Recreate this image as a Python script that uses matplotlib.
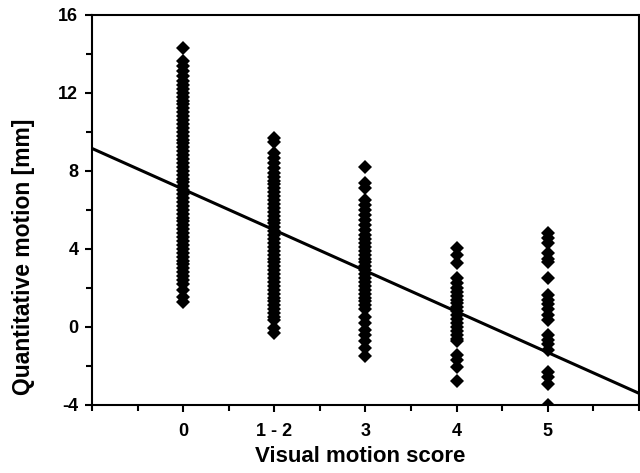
import numpy as np
import matplotlib.pyplot as plt
from matplotlib.ticker import MultipleLocator

plt.rcParams['font.family'] = ['Liberation Sans', 'DejaVu Sans']
plt.rcParams['font.weight'] = 'bold'
plt.rcParams['axes.unicode_minus'] = False

# Visual motion score groups (plotted at positions 0..4)
score_labels = ["0", "1 - 2", "3", "4", "5"]

# Quantitative motion [mm] per group
motion_0 = [14.3, 13.6, 13.35, 13.1, 12.85, 12.6, 12.4, 12.2, 12.0, 11.8, 11.6,
            11.4, 11.2, 11.0, 10.8, 10.6, 10.4, 10.2, 10.0, 9.8, 9.6, 9.4, 9.2,
            9.0, 8.8, 8.6, 8.4, 8.2, 8.0, 7.8, 7.6, 7.4, 7.2, 7.0, 6.8, 6.6,
            6.4, 6.2, 6.0, 5.8, 5.6, 5.4, 5.2, 5.0, 4.8, 4.6, 4.4, 4.2, 4.0,
            3.8, 3.6, 3.4, 3.2, 3.0, 2.8, 2.6, 2.4, 2.2, 1.9, 1.55, 1.25]
motion_12 = [9.7, 9.45, 8.9, 8.65, 8.4, 8.15, 7.9, 7.7, 7.5, 7.3, 7.1, 6.9,
             6.7, 6.5, 6.3, 6.1, 5.9, 5.7, 5.5, 5.3, 5.1, 4.9, 4.7, 4.5, 4.3,
             4.1, 3.9, 3.7, 3.5, 3.3, 3.1, 2.9, 2.7, 2.5, 2.3, 2.1, 1.9, 1.7,
             1.5, 1.3, 1.1, 0.9, 0.7, 0.5, 0.35, -0.05, -0.3]
motion_3 = [8.2, 7.35, 7.1, 6.5, 6.25, 6.0, 5.75, 5.5, 5.2, 4.95, 4.7, 4.5,
            4.3, 4.1, 3.9, 3.7, 3.5, 3.3, 3.1, 2.9, 2.7, 2.5, 2.3, 2.1, 1.9,
            1.7, 1.5, 1.3, 1.1, 0.9, 0.5, 0.2, -0.15, -0.4, -0.75, -1.1, -1.5]
motion_4 = [4.05, 3.7, 3.25, 2.5, 2.25, 2.0, 1.8, 1.6, 1.4, 1.2, 1.0, 0.8,
            0.6, 0.4, 0.2, 0.0, -0.2, -0.4, -0.6, -0.75, -1.45, -1.7, -2.05,
            -2.8]
motion_5 = [4.8, 4.55, 4.3, 3.8, 3.5, 3.3, 2.5, 1.65, 1.4, 1.15, 0.9, 0.6,
            0.35, -0.4, -0.65, -0.9, -1.2, -2.3, -2.55, -2.95, -4.0]

# Linear regression line
fit_intercept = 7.05
fit_slope = -2.09

groups = [motion_0, motion_12, motion_3, motion_4, motion_5]

fig = plt.figure(figsize=(6.4, 4.73), dpi=100)
ax = fig.add_axes([0.144, 0.144, 0.854, 0.825])

for pos, vals in enumerate(groups):
    ax.plot(np.full(len(vals), pos), vals, linestyle='none', marker='D',
            markersize=6.8, color='black', markeredgewidth=0)

xx = np.array([-1.0, 5.0])
ax.plot(xx, fit_intercept + fit_slope * xx, color='black', linewidth=2.2)

ax.set_xlim(-1, 5)
ax.set_ylim(-4, 16)
ax.set_xticks(range(len(score_labels)))
ax.set_xticklabels(score_labels)
ax.xaxis.set_minor_locator(MultipleLocator(0.5))
ax.set_yticks([-4, 0, 4, 8, 12, 16])
ax.yaxis.set_minor_locator(MultipleLocator(2))

for s in ax.spines.values():
    s.set_linewidth(1.5)
ax.tick_params(which='major', direction='out', length=5, width=1.5,
               labelsize=13)
ax.tick_params(axis='x', which='major', pad=8)
ax.tick_params(axis='y', which='major', pad=5)
ax.tick_params(which='minor', direction='out', length=4, width=1.5)

ax.set_xlabel('Visual motion score', fontsize=16, fontweight='bold')
ax.set_ylabel('Quantitative motion [mm]', fontsize=16.5, fontweight='bold')
ax.xaxis.set_label_coords(0.49, -0.105)
ax.yaxis.set_label_coords(-0.105, 0.38)

fig.savefig('out.png', dpi=100)
